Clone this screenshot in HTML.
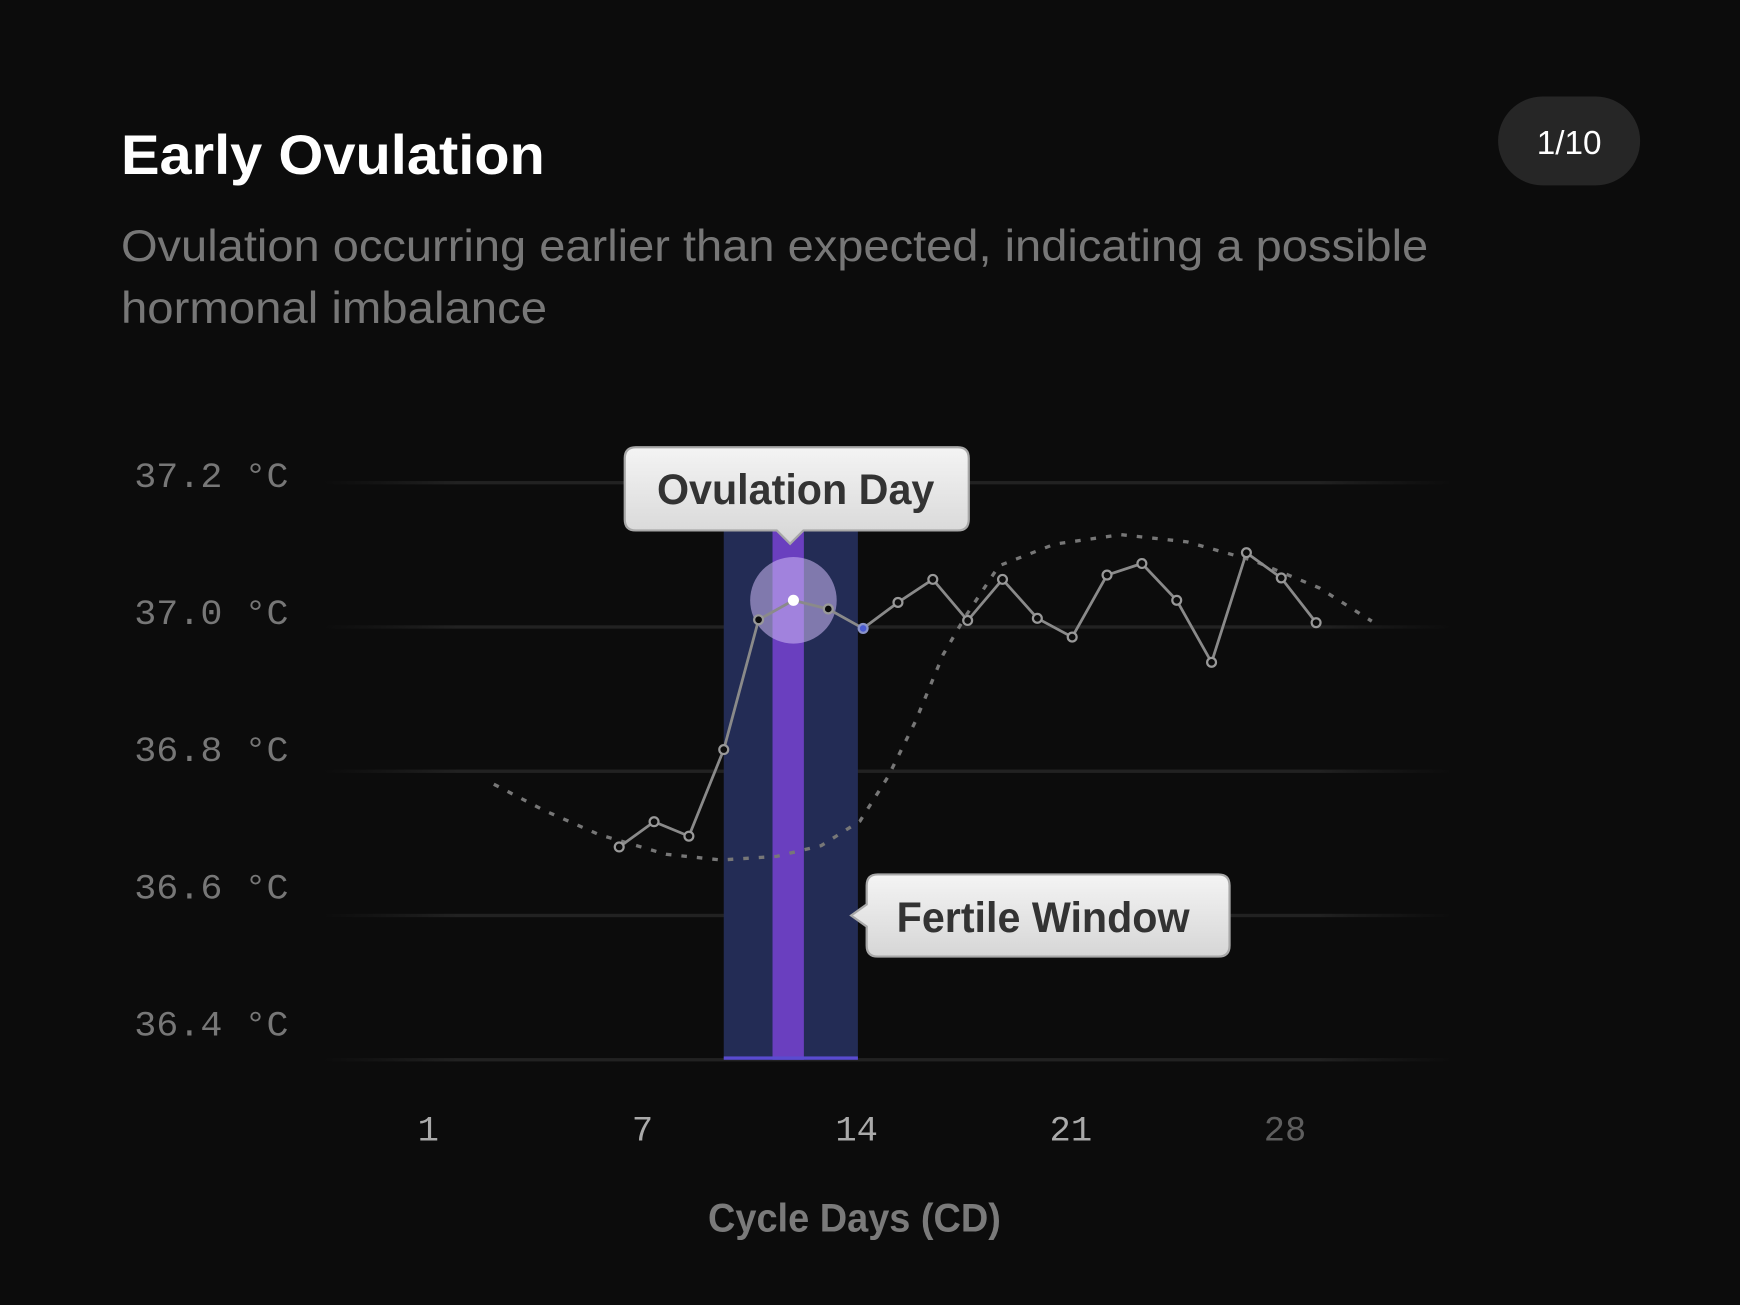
<!DOCTYPE html>
<html><head><meta charset="utf-8"><style>
html,body{margin:0;padding:0;background:#0c0c0c;}
svg{display:block;}
</style></head><body>
<svg id="chart" width="1740" height="1305" viewBox="0 0 1568 1176" preserveAspectRatio="none" xmlns="http://www.w3.org/2000/svg">
<defs>
<linearGradient id="gridg" x1="0" x2="1" y1="0" y2="0">
<stop offset="0" stop-color="#1e1e1e" stop-opacity="0"/><stop offset="0.12" stop-color="#222"/><stop offset="0.88" stop-color="#222"/><stop offset="1" stop-color="#1e1e1e" stop-opacity="0"/>
</linearGradient>
<linearGradient id="tipg" x1="0" x2="0" y1="0" y2="1"><stop offset="0" stop-color="#f4f4f4"/><stop offset="1" stop-color="#d6d6d6"/></linearGradient>
</defs>
<rect x="0" y="0" width="1568" height="1176" fill="#0c0c0c"/>
<text x="109" y="157" font-family="Liberation Sans, sans-serif" font-size="50" font-weight="bold" fill="#fff" textLength="382" lengthAdjust="spacingAndGlyphs">Early Ovulation</text>
<g>
<rect x="1350" y="87" width="128" height="80" rx="40" fill="#262626"/>
<text x="1414" y="139" text-anchor="middle" font-family="Liberation Sans, sans-serif" font-size="30" fill="#fff">1/10</text>
</g>
<text x="109" y="235" font-family="Liberation Sans, sans-serif" font-size="40" fill="#777" textLength="1178" lengthAdjust="spacingAndGlyphs">Ovulation occurring earlier than expected, indicating a possible</text>
<text x="109" y="291" font-family="Liberation Sans, sans-serif" font-size="40" fill="#777" textLength="384" lengthAdjust="spacingAndGlyphs">hormonal imbalance</text>
<g id="grid"></g>
<g id="bands"></g>
<g id="trend"></g>
<g id="series"></g>
<g id="ticks"></g>
<g>
<path d="M573,403 H863 Q873,403 873,413 V468 Q873,478 863,478 H724 L712,490 L700,478 H573 Q563,478 563,468 V413 Q563,403 573,403 Z" fill="url(#tipg)" stroke="#a8a8a8" stroke-width="2"/>
<text x="717" y="454" text-anchor="middle" font-family="Liberation Sans, sans-serif" font-size="38" font-weight="bold" fill="#333" textLength="250" lengthAdjust="spacingAndGlyphs">Ovulation Day</text>
</g>
<g>
<path d="M791,788 H1098 Q1108,788 1108,798 V852 Q1108,862 1098,862 H791 Q781,862 781,852 V835 L767,825 L781,815 V798 Q781,788 791,788 Z" fill="url(#tipg)" stroke="#a8a8a8" stroke-width="2"/>
<text x="940" y="840" text-anchor="middle" font-family="Liberation Sans, sans-serif" font-size="38" font-weight="bold" fill="#333" textLength="264" lengthAdjust="spacingAndGlyphs">Fertile Window</text>
</g>
<text x="770" y="1110" text-anchor="middle" font-family="Liberation Sans, sans-serif" font-size="36" font-weight="bold" fill="#7a7a7a" textLength="264" lengthAdjust="spacingAndGlyphs">Cycle Days (CD)</text>
</svg>
<script>
const days=[7,8,9,10,11,12,13,14,15,16,17,18,19,20,21,22,23,24,25,26,27];
const temps=[36.695,36.73,36.71,36.83,37.01,37.037,37.025,36.998,37.034,37.066,37.009,37.066,37.012,36.986,37.072,37.088,37.037,36.951,37.103,37.068,37.006];
const trendDays=[3.4,4.83,6.43,8.34,9.93,11.52,12.8,13.91,14.71,15.5,16.3,16.94,17.9,19.5,21.4,23.3,25.2,27.1,28.6];
const trendTemps=[36.782,36.746,36.712,36.685,36.677,36.682,36.697,36.731,36.792,36.869,36.962,37.015,37.085,37.115,37.128,37.118,37.092,37.054,37.008];
const yTicks=[37.2,37.0,36.8,36.6,36.4];
const yTickLabels=["37.2 °C","37.0 °C","36.8 °C","36.6 °C","36.4 °C"];
const xTicks=[1,7,14,21,28];
const fertileStart=10, fertileEnd=13.85, ovulStart=11.4, ovulEnd=12.3, ovulationDay=12;
const NS='http://www.w3.org/2000/svg';
function x(d){return 558+(d-7)*31.4;}
function y(v){return 435+(37.2-v)*650;}
function xt(i){return 386+i*193;}
function mk(tag,attrs,parent){const e=document.createElementNS(NS,tag);for(const k in attrs)e.setAttribute(k,attrs[k]);parent.appendChild(e);return e;}
const grid=document.getElementById('grid');
yTicks.forEach((v,i)=>{
  const gy=i===yTicks.length-1?955:y(v);
  const l=mk('rect',{x:290,y:gy-1.5,width:1020,height:3,fill:'url(#gridg)'},grid);
  
  
  const t=mk('text',{x:121,y:428+i*123.5+11,'font-family':'Liberation Mono, monospace','font-size':32,fill:'#777',textLength:139,lengthAdjust:'spacingAndGlyphs'},grid);
  t.textContent=yTickLabels[i];
  
  
});
const bands=document.getElementById('bands');
const fb=mk('rect',{x:x(fertileStart),y:478,width:x(fertileEnd)-x(fertileStart),height:477,fill:'#232c55'},bands);


const ob=mk('rect',{x:x(ovulStart),y:478,width:x(ovulEnd)-x(ovulStart),height:477,fill:'#6a3fbf'},bands);


const bl=mk('rect',{x:x(fertileStart),y:952,width:x(fertileEnd)-x(fertileStart),height:3,fill:'#5a4bd0'},bands);


const trend=document.getElementById('trend');
let td='';
trendDays.forEach((d,i)=>{td+=(i?'L':'M')+x(d).toFixed(1)+','+y(trendTemps[i]).toFixed(1);});
const tp=mk('path',{d:td,fill:'none',stroke:'#777','stroke-width':3,'stroke-dasharray':'5 9','stroke-linejoin':'round'},trend);


const series=document.getElementById('series');
const oi=days.indexOf(ovulationDay);
const hc=mk('circle',{cx:x(days[oi]),cy:y(temps[oi]),r:39,fill:'rgba(205,185,245,0.55)'},series);


let sd='';
days.forEach((d,i)=>{sd+=(i?'L':'M')+x(d).toFixed(1)+','+y(temps[i]).toFixed(1);});
const sp=mk('path',{d:sd,fill:'none',stroke:'#8a8a8a','stroke-width':2.5,'stroke-linejoin':'round'},series);


days.forEach((d,i)=>{
  let fill='#0c0c0c',stroke='#999',r=4;
  if(d===ovulationDay){fill='#fff';stroke='#fff';}
  else if(d===14){fill='#4a5bd0';stroke='#8a93c8';}
  const c=mk('circle',{cx:x(d),cy:y(temps[i]),r:r,fill:fill,stroke:stroke,'stroke-width':2},series);
  
  
});
const ticks=document.getElementById('ticks');
xTicks.forEach((d,i)=>{
  const t=mk('text',{x:xt(i),y:1028,'text-anchor':'middle','font-family':'Liberation Mono, monospace','font-size':32,fill:i===xTicks.length-1?'#5e5e5e':'#aaa'},ticks);
  t.textContent=String(d);
  
  
});
</script>
</body></html>
